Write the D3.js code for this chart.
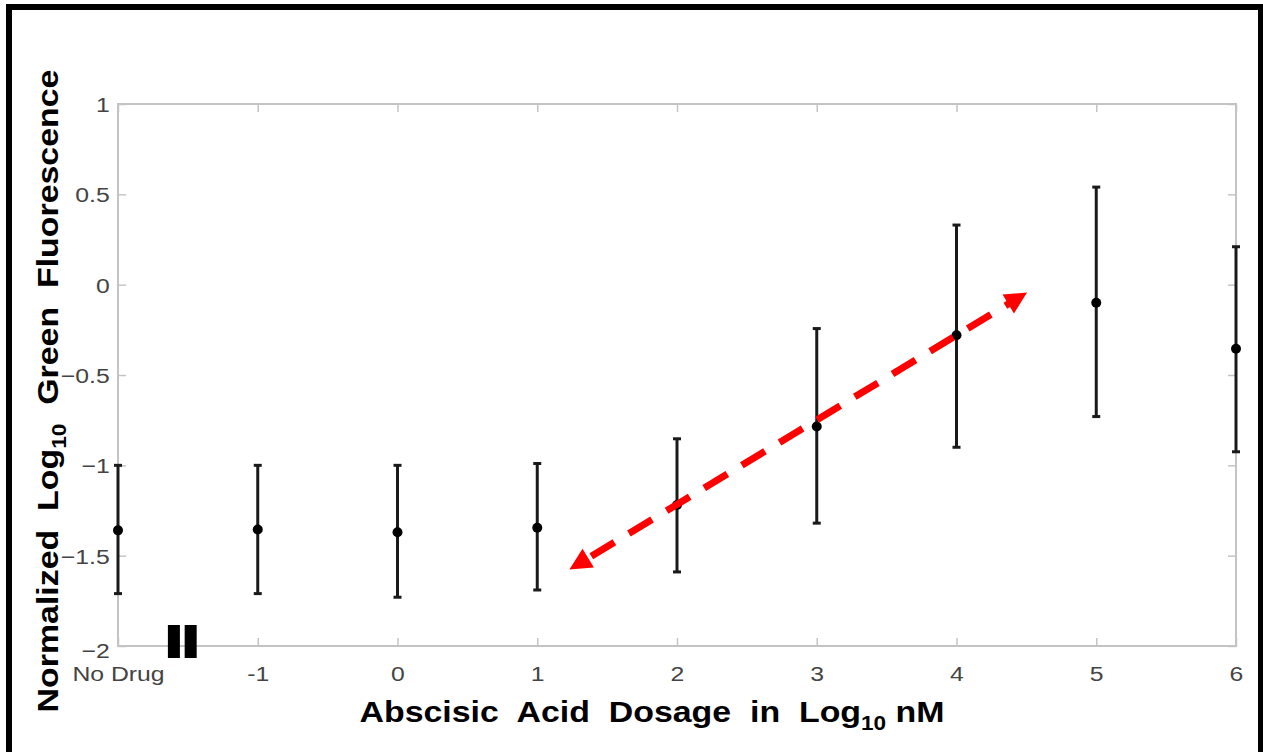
<!DOCTYPE html>
<html>
<head>
<meta charset="utf-8">
<script src="https://cdn.jsdelivr.net/npm/d3@7/dist/d3.min.js"></script>
<style>
  body { margin: 0; background: #fff; }
  svg { display: block; }
</style>
</head>
<body>
<script>
// dose in log10 nM, -2 stands for "No Drug"
var doses = [-2, -1, 0, 1, 2, 3, 4, 5, 6];
var means = [-1.36, -1.355, -1.37, -1.345, -1.22, -0.785, -0.28, -0.10, -0.355];
var upper = [-1.0, -1.0, -1.0, -0.99, -0.853, -0.243, 0.33, 0.54, 0.21];
var lower = [-1.71, -1.71, -1.73, -1.69, -1.59, -1.32, -0.90, -0.73, -0.925];

var xTicks = [-2, -1, 0, 1, 2, 3, 4, 5, 6];
var xTickLabels = ["No Drug", "-1", "0", "1", "2", "3", "4", "5", "6"];
var yTicks = [-2, -1.5, -1, -0.5, 0, 0.5, 1];

// trend arrow, in data units
var arrowFrom = [1.23, -1.577];
var arrowTo = [4.505, -0.044];

var W = 1263, H = 752;
var margin = { top: 104, right: 27, bottom: 106, left: 118 },
  width = W - margin.left - margin.right,
  height = H - margin.top - margin.bottom;

var svg = d3.select("body").append("svg")
  .attr("width", W)
  .attr("height", H);

// picture frame (no bottom edge)
svg.append("path")
  .attr("d", "M9,752 V7 H1261 V752")
  .attr("fill", "none")
  .attr("stroke", "#000")
  .attr("stroke-width", 6);

var g = svg.append("g")
  .attr("transform", "translate(" + margin.left + "," + margin.top + ")");

var x = d3.scaleLinear().domain([-2, 6]).range([0, width]);
var y = d3.scaleLinear().domain([-2, 1]).range([height, 0]);

var axisColor = "#c4c4c4", textColor = "#444";
var font = "Arial, 'Liberation Sans', sans-serif";

function styleAxis(sel) {
  sel.select(".domain").remove();
  sel.selectAll(".tick line").attr("stroke", axisColor).attr("stroke-width", 1.5);
  sel.selectAll(".tick text")
    .attr("fill", textColor)
    .style("font-family", font)
    .style("font-size", "21px");
}

// box
g.append("rect")
  .attr("width", width)
  .attr("height", height)
  .attr("fill", "none")
  .attr("stroke", axisColor)
  .attr("stroke-width", 2);

// the source image is a bit stretched sideways, so widen the text
g.append("g")
  .attr("transform", "translate(0," + height + ")")
  .call(d3.axisBottom(x).tickValues(xTicks).tickSize(-8).tickPadding(20)
    .tickFormat(function (d, i) { return xTickLabels[i]; }))
  .call(styleAxis)
  .selectAll(".tick text")
  .attr("transform", "scale(1.18,1)");

g.append("g")
  .call(d3.axisTop(x).tickValues(xTicks).tickSize(-8).tickFormat(""))
  .call(styleAxis);

g.append("g")
  .call(d3.axisLeft(y).tickValues(yTicks).tickSize(-8).tickPadding(0)
    .tickFormat(d3.format("~g")))
  .call(styleAxis)
  .selectAll(".tick text")
  .attr("x", -7)
  .attr("transform", "scale(1.18,1)")
  .attr("dy", function (d) { return d === -2 ? "0.55em" : "0.35em"; });

g.append("g")
  .attr("transform", "translate(" + width + ",0)")
  .call(d3.axisRight(y).tickValues(yTicks).tickSize(-8).tickFormat(""))
  .call(styleAxis);

// axis break marker
g.selectAll(".brk")
  .data([-1.6, -1.48])
  .enter().append("rect")
  .attr("class", "brk")
  .attr("x", function (d) { return x(d) - 6; })
  .attr("y", height - 21)
  .attr("width", 12)
  .attr("height", 33)
  .attr("fill", "#000");

// error bars
var bars = g.selectAll(".err")
  .data(doses)
  .enter().append("g")
  .attr("class", "err");

bars.append("line")
  .attr("x1", function (d) { return x(d); })
  .attr("x2", function (d) { return x(d); })
  .attr("y1", function (d, i) { return y(upper[i]); })
  .attr("y2", function (d, i) { return y(lower[i]); })
  .attr("stroke", "#1a1a1a")
  .attr("stroke-width", 3);

[upper, lower].forEach(function (arr) {
  bars.append("line")
    .attr("x1", function (d) { return x(d) - 4; })
    .attr("x2", function (d) { return x(d) + 4; })
    .attr("y1", function (d, i) { return y(arr[i]); })
    .attr("y2", function (d, i) { return y(arr[i]); })
    .attr("stroke", "#1a1a1a")
    .attr("stroke-width", 3);
});

bars.append("circle")
  .attr("cx", function (d) { return x(d); })
  .attr("cy", function (d, i) { return y(means[i]); })
  .attr("r", 5)
  .attr("fill", "#000");

// red dashed trend arrow
var ax1 = x(arrowFrom[0]), ay1 = y(arrowFrom[1]),
  ax2 = x(arrowTo[0]), ay2 = y(arrowTo[1]);
var ang = Math.atan2(ay2 - ay1, ax2 - ax1);
var headLen = 22, headW = 11;
var ux = Math.cos(ang), uy = Math.sin(ang);

g.append("line")
  .attr("x1", ax1 + ux * headLen * 0.8)
  .attr("y1", ay1 + uy * headLen * 0.8)
  .attr("x2", ax2 - ux * headLen * 0.8)
  .attr("y2", ay2 - uy * headLen * 0.8)
  .attr("stroke", "#ff0000")
  .attr("stroke-width", 7)
  .attr("stroke-dasharray", "27,17")
  .attr("stroke-dashoffset", -8);

function head(tx, ty, dx, dy) {
  var bx = tx - dx * headLen, by = ty - dy * headLen;
  return "M" + tx + "," + ty +
    "L" + (bx - dy * headW) + "," + (by + dx * headW) +
    "L" + (bx + dy * headW) + "," + (by - dx * headW) + "Z";
}
g.append("path").attr("d", head(ax2, ay2, ux, uy)).attr("fill", "#ff0000");
g.append("path").attr("d", head(ax1, ay1, -ux, -uy)).attr("fill", "#ff0000");

// axis titles
var xt = svg.append("text")
  .attr("transform", "translate(652,722) scale(1.13,1)")
  .attr("text-anchor", "middle")
  .style("font-family", font)
  .style("font-size", "30px")
  .style("font-weight", "bold")
  .attr("fill", "#000")
  .attr("xml:space", "preserve");
xt.append("tspan").text("Abscisic  Acid  Dosage  in  Log");
xt.append("tspan").attr("dy", 8).style("font-size", "20px").text("10");
xt.append("tspan").attr("dy", -8).text(" nM");

var yt = svg.append("text")
  .attr("transform", "translate(58,391) rotate(-90) scale(1.13,1)")
  .attr("text-anchor", "middle")
  .style("font-family", font)
  .style("font-size", "30px")
  .style("font-weight", "bold")
  .attr("fill", "#000")
  .attr("xml:space", "preserve");
yt.append("tspan").text("Normalized  Log");
yt.append("tspan").attr("dy", 8).style("font-size", "20px").text("10");
yt.append("tspan").attr("dy", -8).text("  Green  Fluorescence");
</script>
</body>
</html>
